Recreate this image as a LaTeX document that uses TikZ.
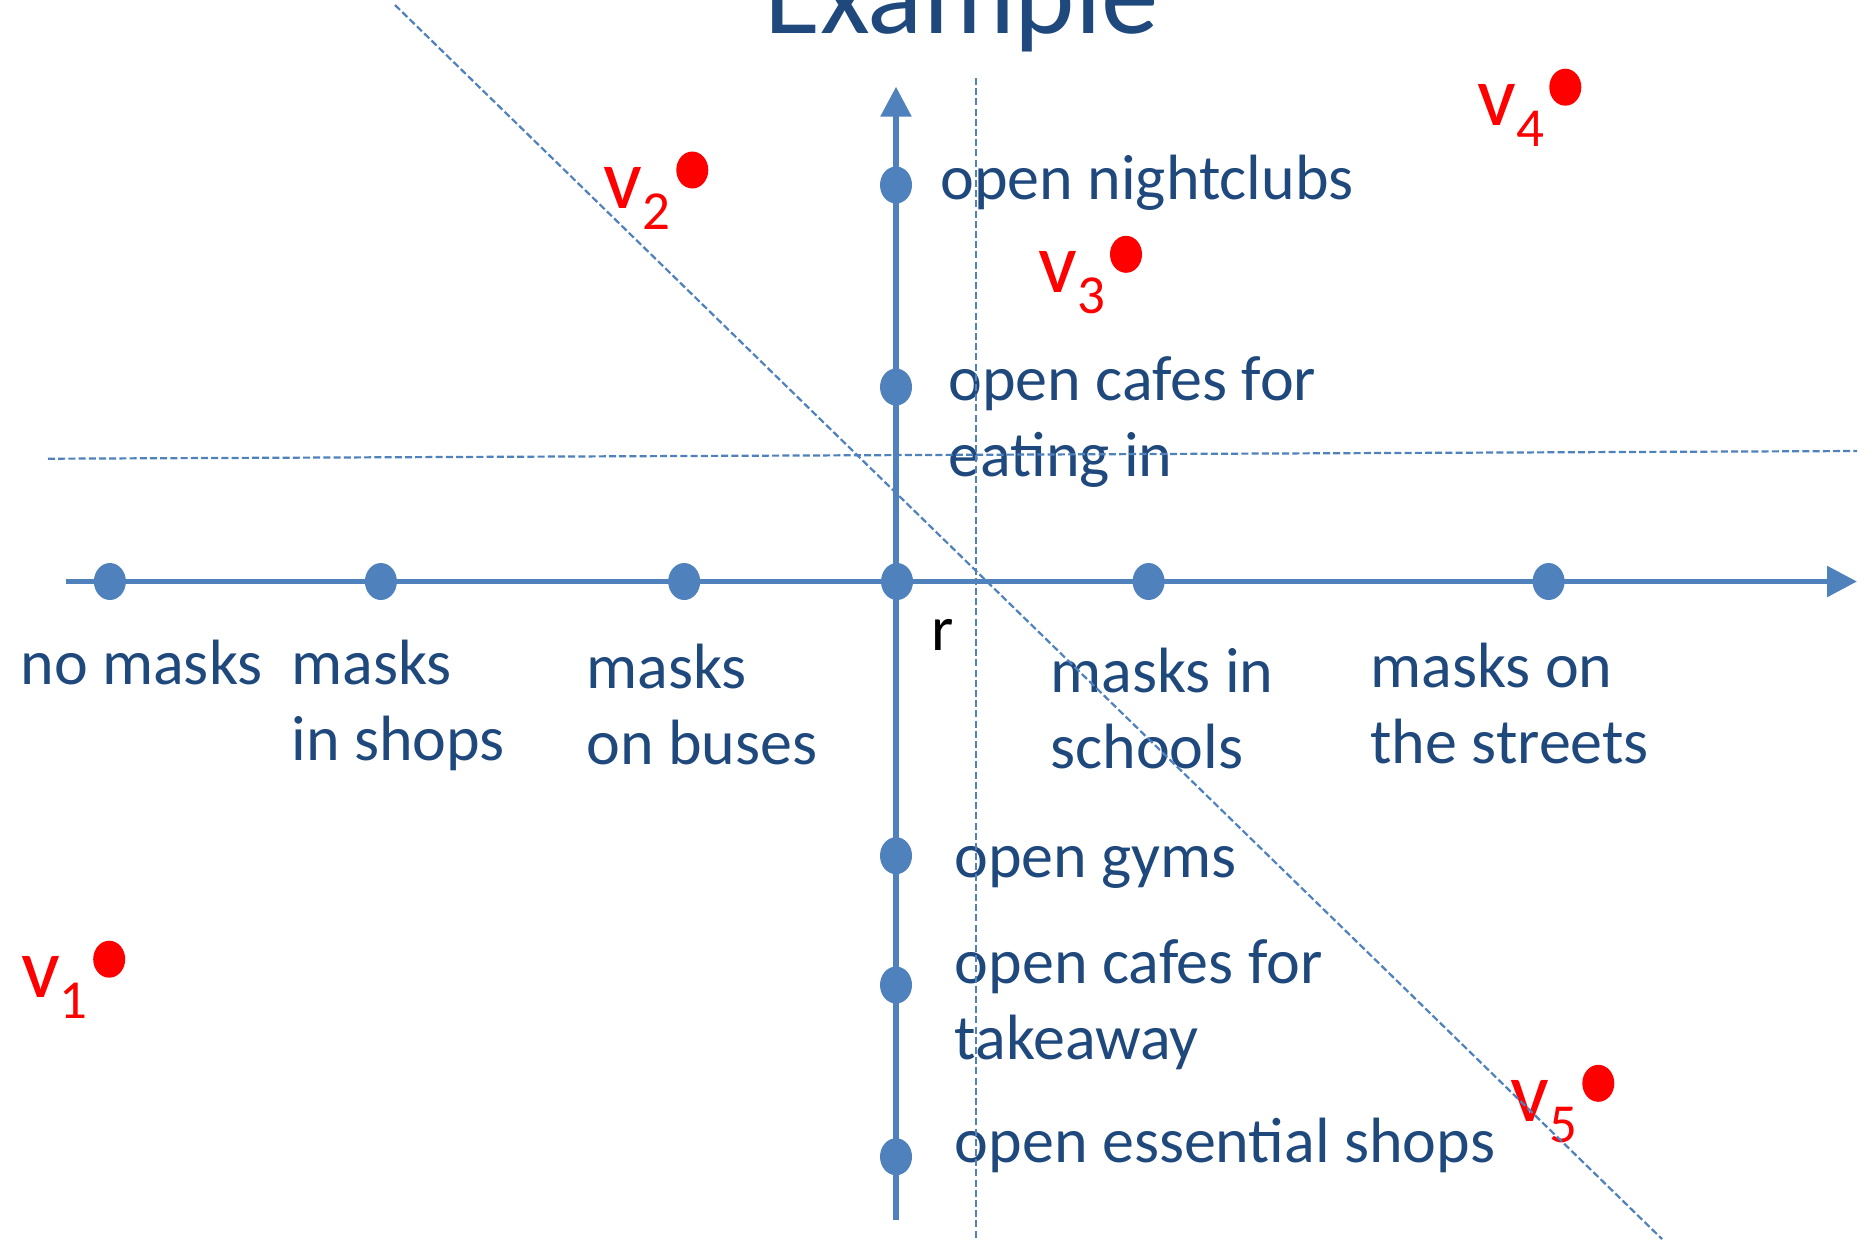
\documentclass[tikz,border=0pt]{standalone}
\usepackage{fontspec}
\setmainfont{Carlito}
\usetikzlibrary{arrows.meta,shapes.geometric}
\definecolor{axisblue}{RGB}{79,129,189}
\definecolor{textblue}{RGB}{31,73,125}
\definecolor{vred}{RGB}{255,0,0}
\newcommand{\twolines}[2]{\vtop{\hbox{#1}\hbox{#2}}}
\newcommand{\vsubs}[1]{v\raisebox{-10.5pt}{\fontsize{27.5}{30}\selectfont #1}}
\begin{document}
\begin{tikzpicture}[x=0.5pt,y=-0.5pt,
  lbl/.style={font=\fontsize{32}{38}\selectfont, text=textblue, anchor=base west, inner sep=0pt},
  axisdot/.style={ellipse, fill=axisblue, minimum width=16pt, minimum height=18.5pt, inner sep=0pt},
  axisline/.style={draw=axisblue, line width=2.85pt, -{Triangle[length=15pt,width=15pt]}},
  guide/.style={draw=axisblue, line width=1.1pt, dash pattern=on 3.5pt off 1.6pt},
  vdot/.style={ellipse, fill=vred, minimum width=16pt, minimum height=18.5pt, inner sep=0pt},
  vlbl/.style={font=\fontsize{43}{50}\selectfont, text=vred, anchor=base west, inner sep=0pt}]
\fill[white] (0,0) rectangle (1872,1239);
\useasboundingbox (0,0) rectangle (1872,1239);

% title
\node[font=\fontsize{57.5}{60}\selectfont, text=textblue, anchor=base, inner sep=0pt] (title) at (961.5,33) {Example};

% axes
\coordinate (hstart) at (66,581.5);
\coordinate (htip) at (1857,581.5);
\coordinate (vstart) at (896,1220);
\coordinate (vtip) at (896,86.7);
\draw[axisline] (hstart) -- (htip);
\draw[axisline] (vstart) -- (vtip);

% horizontal axis dots
\node[axisdot] (h1) at (109.9,581.5) {};
\node[axisdot] (h2) at (380.9,581.5) {};
\node[axisdot] (h3) at (684.2,581.5) {};
\node[axisdot] (o)  at (897,581.5) {};
\node[axisdot] (h5) at (1148.6,581.5) {};
\node[axisdot] (h6) at (1548.6,581.5) {};

% vertical axis dots
\node[axisdot] (u1) at (896,185) {};
\node[axisdot] (u2) at (896,387) {};
\node[axisdot] (d1) at (896,855.7) {};
\node[axisdot] (d2) at (896,985) {};
\node[axisdot] (d3) at (896,1156.7) {};

% horizontal labels
\node[lbl] (lh1) at (20,684.5) {no masks};
\node[lbl] (lh2) at (291,684.5) {\twolines{masks}{in shops}};
\node[lbl] (lh3) at (586,688) {\twolines{masks}{on buses}};
\node[lbl] (lh5) at (1050,692.5) {\twolines{masks in}{schools}};
\node[lbl] (lh6) at (1370,687) {\twolines{masks on}{the streets}};

% vertical labels
\node[lbl] (lu1) at (940,199.3) {open nightclubs};
\node[lbl] (lu2) at (948,400) {\twolines{open cafes for}{eating in}};
\node[lbl] (ld1) at (954,877.3) {open gyms};
\node[lbl] (ld2) at (954.5,983.3) {\twolines{open cafes for}{takeaway}};
\node[lbl] (ld3) at (954.5,1162.7) {open essential shops};

% r label
\node[lbl, text=black] (r) at (931,650.7) {r};

% red points
\node[vdot] (v1) at (109.2,959.2) {};
\node[vdot] (v2) at (692.3,170) {};
\node[vdot] (v3) at (1126,254.3) {};
\node[vdot] (v4) at (1565.3,87.2) {};
\node[vdot] (v5) at (1598.3,1083.3) {};
\node[vlbl] (lv1) at (20.7,997.7) {\vsubs{1}};
\node[vlbl] (lv2) at (603.3,208.3) {\vsubs{2}};
\node[vlbl] (lv3) at (1038,292.8) {\vsubs{3}};
\node[vlbl] (lv4) at (1477.3,125.7) {\vsubs{4}};
\node[vlbl] (lv5) at (1510,1121.7) {\vsubs{5}};

% dashed guide lines
\coordinate (g1a) at (976,78);
\coordinate (g1b) at (976,1239);
\coordinate (g2a) at (48,458.7);
\coordinate (g2b) at (1857,451);
\coordinate (g3a) at (395,5);
\coordinate (g3b) at (1662,1239);
\draw[guide] (g1a) -- (g1b);
\draw[guide] (g2a) -- (g2b);
\draw[guide] (g3a) -- (g3b);
\end{tikzpicture}
\end{document}
